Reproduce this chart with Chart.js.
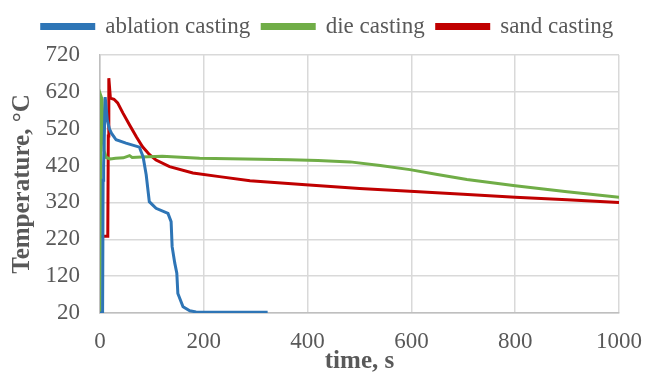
<!DOCTYPE html>
<html>
<head>
<meta charset="utf-8">
<script src="https://cdn.jsdelivr.net/npm/chart.js@4"></script>
<style>
  html, body { margin: 0; padding: 0; background: #ffffff; }
  #wrap { width: 645px; height: 374px; }
</style>
</head>
<body>
<div id="wrap"><canvas id="myChart" width="645" height="374"></canvas></div>
<script>
// time, s and temperature, °C
const ablationTime = [0, 5, 6, 7, 10, 14, 18, 22, 31, 50, 76, 80, 83, 89, 95, 108, 131, 137, 139, 144, 148, 150, 160, 173, 185, 250, 323];
const ablationTemp = [20, 20, 380, 420, 606, 544, 520, 508, 490, 481, 470, 455, 444, 395, 322, 304, 290, 268, 200, 156, 128, 73, 37, 26, 23, 22, 22];

const dieTime = [0, 1, 2, 4, 6, 8, 12, 20, 30, 45, 57, 62, 80, 120, 192, 280, 366, 420, 482, 540, 597, 650, 707, 800, 900, 1000];
const dieTemp = [20, 20, 608, 600, 520, 460, 442, 438, 440, 441, 447, 442, 443, 445, 440, 438, 436, 434, 430, 420, 409, 396, 382, 365, 349, 334];

const sandTime = [0, 14, 15, 16, 17, 20, 27, 34, 44, 57, 70, 82, 95, 108, 134, 179, 230, 289, 396, 500, 597, 700, 800, 900, 1000];
const sandTemp = [228, 228, 232, 500, 657, 603, 600, 590, 563, 530, 498, 471, 450, 435, 417, 400, 390, 379, 368, 358, 350, 342, 334, 327, 320];

const seriesNames = ["ablation casting", "die casting", "sand casting"];
const seriesColors = ["#2e75b6", "#70ad47", "#c00000"];

const xTicks = [0, 200, 400, 600, 800, 1000];
const yTicks = [20, 120, 220, 320, 420, 520, 620, 720];

function toPoints(ts, vs) {
  return ts.map((t, i) => ({ x: t, y: vs[i] }));
}

const serif = "'Liberation Serif', 'Times New Roman', serif";
const grey = "#595959";

// extra room under the legend, and nudge it a bit to the right
const legendTweak = {
  id: "legendTweak",
  beforeInit(chart) {
    const fit = chart.legend.fit;
    chart.legend.fit = function () {
      fit.call(this);
      this.height += 7;
    };
  },
  afterLayout(chart) {
    chart.legend.left += 18;
    chart.legend.right += 18;
  },
};

const ctx = document.getElementById("myChart").getContext("2d");
new Chart(ctx, {
  type: "line",
  data: {
    datasets: [
      { label: seriesNames[0], data: toPoints(ablationTime, ablationTemp) },
      { label: seriesNames[1], data: toPoints(dieTime, dieTemp) },
      { label: seriesNames[2], data: toPoints(sandTime, sandTemp) },
    ].map((d, i) => ({
      ...d,
      borderColor: seriesColors[i],
      backgroundColor: seriesColors[i],
      borderWidth: 3,
      pointRadius: 0,
      tension: 0,
      fill: false,
    })),
  },
  plugins: [legendTweak],
  options: {
    responsive: false,
    animation: false,
    layout: { padding: { left: 0, right: 26, top: 3, bottom: 0 } },
    plugins: {
      legend: {
        position: "top",
        labels: {
          boxWidth: 52,
          boxHeight: 4,
          padding: 12,
          color: grey,
          font: { family: serif, size: 23 },
        },
      },
      tooltip: { enabled: false },
    },
    scales: {
      x: {
        type: "linear",
        min: xTicks[0],
        max: xTicks[xTicks.length - 1],
        afterBuildTicks: (s) => { s.ticks = xTicks.map((v) => ({ value: v })); },
        afterFit: (s) => { s.height = 61; s.paddingLeft = 0; s.paddingRight = 0; },
        ticks: {
          color: grey,
          font: { family: serif, size: 23 },
          padding: 15,
          callback: (v) => String(v),
        },
        grid: { color: "#d9d9d9", lineWidth: 1.5, drawTicks: false },
        border: { color: "#bfbfbf", width: 1.5 },
        title: {
          display: true,
          text: "time, s",
          color: grey,
          font: { family: serif, size: 25, weight: "bold" },
          padding: { top: 0, bottom: -3 },
        },
      },
      y: {
        min: yTicks[0],
        max: yTicks[yTicks.length - 1],
        afterBuildTicks: (s) => { s.ticks = yTicks.map((v) => ({ value: v })); },
        afterFit: (s) => { s.width = 100; s.paddingTop = 0; s.paddingBottom = 0; },
        ticks: { color: grey, font: { family: serif, size: 23 }, padding: 20 },
        grid: { color: "#d9d9d9", lineWidth: 1.5, drawTicks: false },
        border: { color: "#bfbfbf", width: 1.5 },
        title: {
          display: true,
          text: "Temperature, \u00B0C",
          color: grey,
          font: { family: serif, size: 25, weight: "bold" },
          padding: { top: 8, bottom: 0 },
        },
      },
    },
  },
});
</script>
</body>
</html>
